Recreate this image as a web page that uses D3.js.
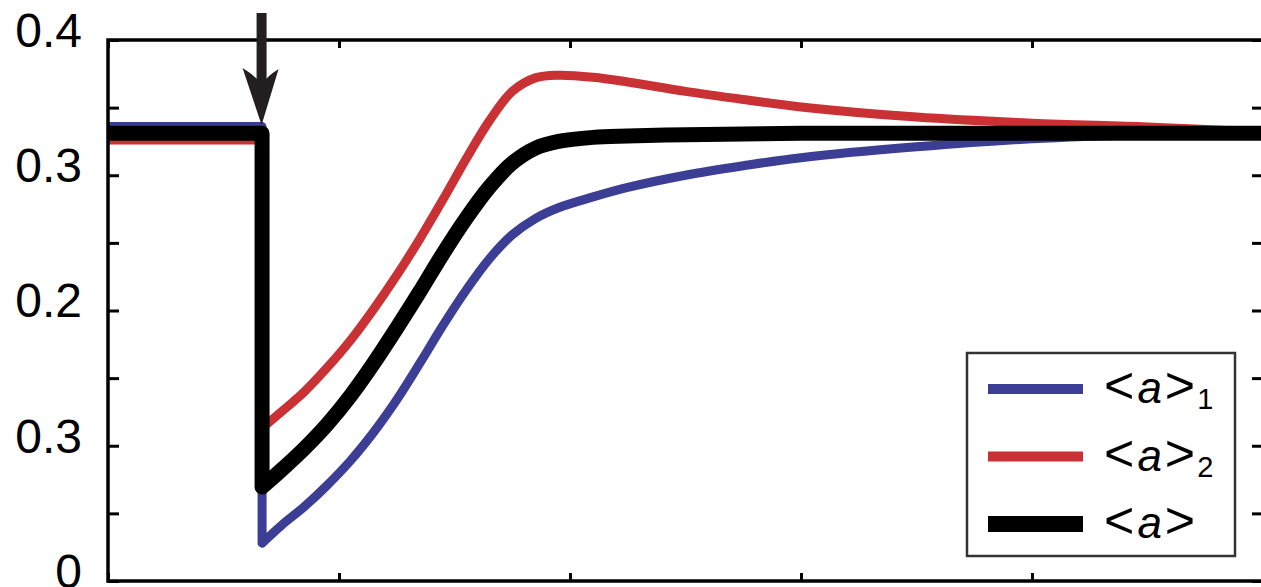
<!DOCTYPE html>
<html>
<head>
<meta charset="utf-8">
<script src="https://cdn.jsdelivr.net/npm/d3@7"></script>
<style>
body { margin: 0; background: #fff; }
svg { display: block; font-family: "Liberation Sans", Arial, Helvetica, sans-serif; }
</style>
</head>
<body>
<svg id="grafiek" width="1261" height="587"></svg>
<script>
// time values (x), the step happens at 0.667
var tijd = [0, 0.667, 0.667, 0.75, 0.85, 0.95, 1.05, 1.15, 1.25, 1.35, 1.45, 1.55, 1.65,
    1.75, 1.85, 1.95, 2.1, 2.25, 2.5, 2.75, 3, 3.5, 4, 4.5, 5];

// <a>1
var blauw = [0.336, 0.336, 0.028, 0.041, 0.055, 0.071, 0.089, 0.110, 0.134, 0.161, 0.189, 0.215, 0.238,
    0.256, 0.268, 0.276, 0.284, 0.291, 0.300, 0.307, 0.313, 0.321, 0.327, 0.330, 0.331];
// <a>2
var rood = [0.326, 0.326, 0.113, 0.125, 0.140, 0.158, 0.178, 0.201, 0.226, 0.253, 0.282, 0.312, 0.340,
    0.362, 0.372, 0.374, 0.3725, 0.369, 0.362, 0.356, 0.3505, 0.343, 0.3385, 0.3357, 0.332];
// <a>
var zwart = [0.331, 0.331, 0.0695, 0.082, 0.098, 0.116, 0.137, 0.161, 0.187, 0.214, 0.242, 0.268, 0.291,
    0.309, 0.320, 0.325, 0.328, 0.329, 0.330, 0.3305, 0.331, 0.331, 0.331, 0.331, 0.331];

// y tick labels as printed in the figure
var yTicks = [0, 0.1, 0.2, 0.3, 0.4];
var yLabels = ["0", "0.3", "0.2", "0.3", "0.4"];
var yMinor = [0, 0.05, 0.1, 0.15, 0.2, 0.25, 0.3, 0.35, 0.4];
var xTicks = [0, 1, 2, 3, 4, 5];
var stapTijd = 0.667;

var reeksen = [
    { naam: "1", waarden: blauw, kleur: "#3b3e94", dikte: 9, legendaDikte: 10 },
    { naam: "2", waarden: rood, kleur: "#c93134", dikte: 9, legendaDikte: 10 },
    { naam: "", waarden: zwart, kleur: "#000", dikte: 15, legendaDikte: 16 }
];

//schalen
var x = d3.scaleLinear().domain([0, 5]).range([108, 1263]);
var y = d3.scaleLinear().domain([0, 0.4]).range([581, 40]);

var svg = d3.select('#grafiek');

// axes: ticks inward on all four sides
function stijl(g) {
    g.select('.domain').remove();
    g.selectAll('line').attr('stroke', '#000').attr('stroke-width', 3);
}
svg.append('g').attr('transform', 'translate(' + x(0) + ',0)')
    .call(d3.axisLeft(y).tickValues(yMinor).tickSize(-11).tickFormat(''))
    .call(stijl);
svg.append('g').attr('transform', 'translate(' + x(5) + ',0)')
    .call(d3.axisRight(y).tickValues(yMinor).tickSize(-11).tickFormat(''))
    .call(stijl);
svg.append('g').attr('transform', 'translate(0,' + y(0) + ')')
    .call(d3.axisBottom(x).tickValues(xTicks).tickSize(-8).tickFormat(''))
    .call(stijl);
svg.append('g').attr('transform', 'translate(0,' + y(0.4) + ')')
    .call(d3.axisTop(x).tickValues(xTicks).tickSize(-8).tickFormat(''))
    .call(stijl);

// y labels
var yas = svg.append('g').attr('transform', 'translate(' + x(0) + ',0)')
    .call(d3.axisLeft(y).tickValues(yTicks).tickSize(0).tickPadding(26)
        .tickFormat(function (d, i) { return yLabels[i]; }));
yas.select('.domain').remove();
yas.selectAll('text')
    .attr('font-size', 48)
    .attr('font-family', '"Liberation Sans", Arial, sans-serif')
    .attr('fill', '#000')
    .attr('dy', '0.32em')
    .attr('y', -9);

// lines: straight drop at the step, smooth afterwards
var lijnRecht = d3.line().x(function (d) { return x(d[0]); }).y(function (d) { return y(d[1]); });
var lijnGlad = d3.line().x(function (d) { return x(d[0]); }).y(function (d) { return y(d[1]); })
    .curve(d3.curveCatmullRom.alpha(0.5));

reeksen.forEach(function (r) {
    var punten = tijd.map(function (t, i) { return [t, r.waarden[i]]; });
    var d = lijnRecht(punten.slice(0, 3)) + lijnGlad(punten.slice(2)).replace('M', 'L');
    svg.append('path')
        .attr('d', d)
        .attr('fill', 'none')
        .attr('stroke', r.kleur)
        .attr('stroke-width', r.dikte)
        .attr('stroke-linejoin', 'round');
});

// frame
svg.append('rect')
    .attr('x', x(0)).attr('y', y(0.4))
    .attr('width', x(5) - x(0)).attr('height', y(0) - y(0.4))
    .attr('fill', 'none').attr('stroke', '#000').attr('stroke-width', 3.5);

// arrow at the step
var ax = x(stapTijd) - 0.5;
svg.append('line')
    .attr('x1', ax).attr('x2', ax).attr('y1', 13).attr('y2', 90)
    .attr('stroke', '#231f20').attr('stroke-width', 10);
svg.append('path')
    .attr('d', 'M' + ax + ',' + 125 + ' L' + (ax - 19) + ',68 Q' + (ax - 6) + ',76 ' + ax + ',84 Q' + (ax + 6) + ',76 ' + (ax + 17) + ',69 Z')
    .attr('fill', '#231f20');

// legend
var legenda = svg.append('g');
legenda.append('rect')
    .attr('x', 967).attr('y', 353).attr('width', 268).attr('height', 203)
    .attr('fill', '#fff').attr('stroke', '#333').attr('stroke-width', 2.5);

reeksen.forEach(function (r, i) {
    var ly = 389 + i * 67.5;
    legenda.append('line')
        .attr('x1', 988).attr('x2', 1083).attr('y1', ly).attr('y2', ly)
        .attr('stroke', r.kleur).attr('stroke-width', r.legendaDikte);
    var t = legenda.append('text')
        .attr('x', 1104).attr('y', ly + 14)
        .attr('font-size', 44).attr('fill', '#000');
    t.append('tspan').attr('font-size', 52).text('<');
    t.append('tspan').attr('dx', 3).attr('font-style', 'italic').text('a');
    t.append('tspan').attr('dx', 3).attr('font-size', 52).text('>');
    if (r.naam) {
        t.append('tspan').attr('dx', 2).attr('dy', 6).attr('font-size', 29).text(r.naam);
    }
});
</script>
</body>
</html>
